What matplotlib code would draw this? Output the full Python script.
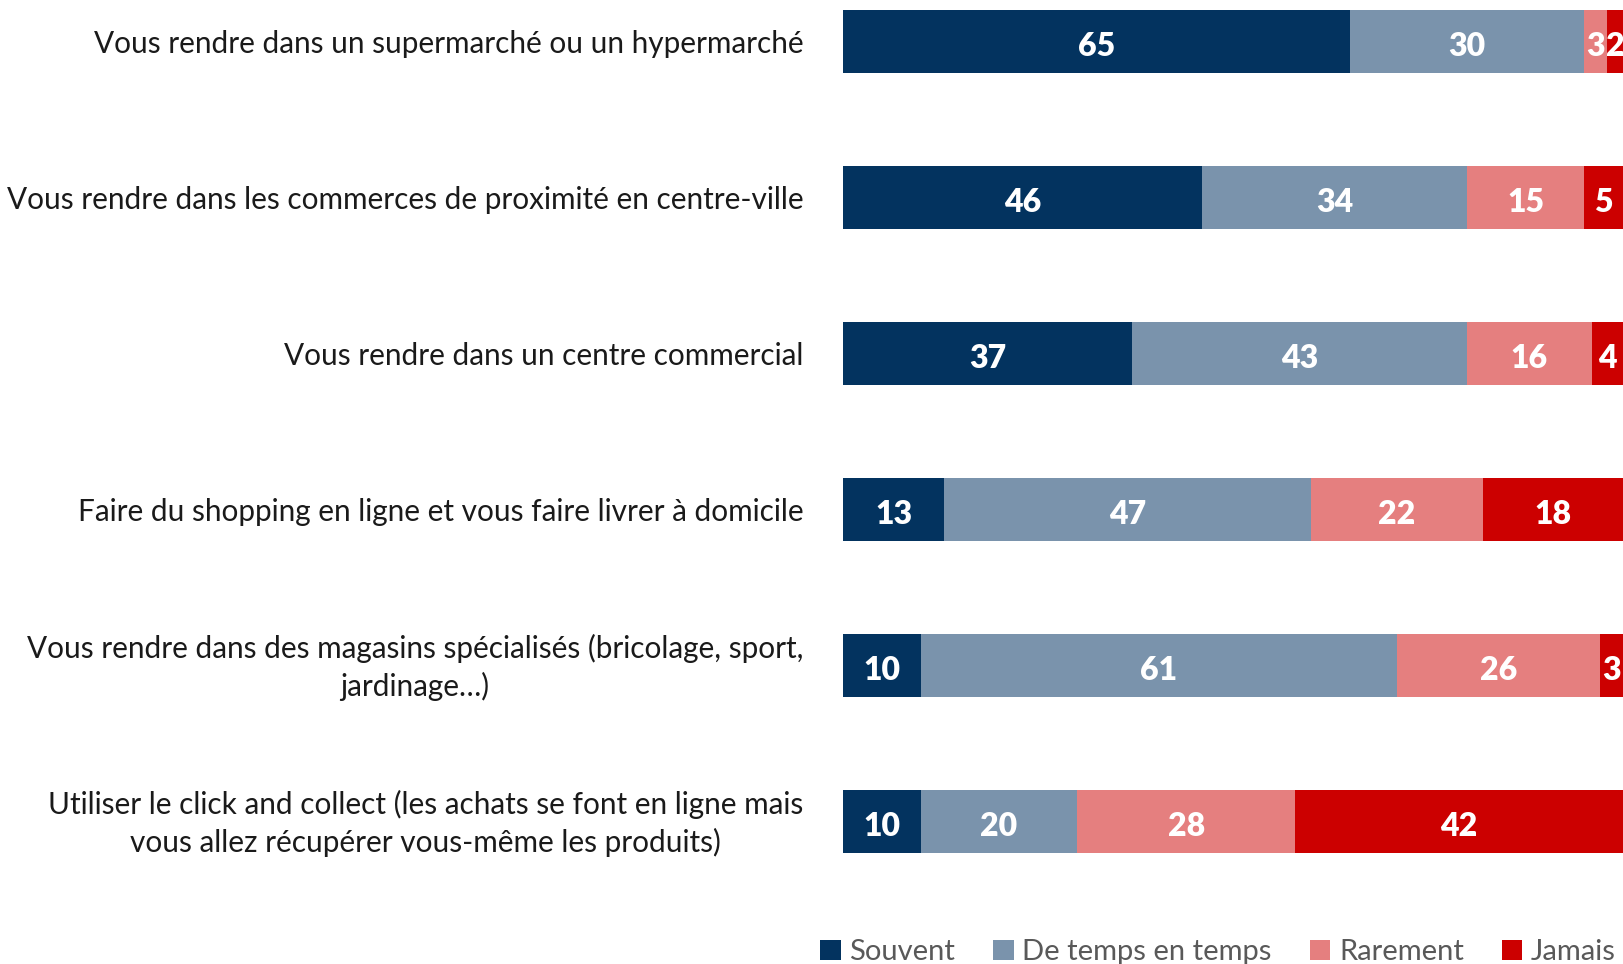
import matplotlib
matplotlib.use("Agg")
import matplotlib.pyplot as plt
import numpy as np

categories = [
    "Vous rendre dans un supermarché ou un hypermarché",
    "Vous rendre dans les commerces de proximité en centre-ville",
    "Vous rendre dans un centre commercial",
    "Faire du shopping en ligne et vous faire livrer à domicile",
    "Vous rendre dans des magasins spécialisés (bricolage, sport,\njardinage…)",
    "Utiliser le click and collect (les achats se font en ligne mais\nvous allez récupérer vous-même les produits)",
]
series_names = ["Souvent", "De temps en temps", "Rarement", "Jamais"]
souvent = [65, 46, 37, 13, 10, 10]
de_temps = [30, 34, 43, 47, 61, 20]
rarement = [3, 15, 16, 22, 26, 28]
jamais = [2, 5, 4, 18, 3, 42]
colors = ["#03335F", "#7A93AC", "#E57F7F", "#CC0000"]

plt.rcParams['font.family'] = ['Lato', 'DejaVu Sans']

W, H = 1623, 964
fig = plt.figure(figsize=(W / 100, H / 100), dpi=100)
top_px, bot_px = 0, 880
ax = fig.add_axes([843 / W, (H - bot_px) / H, 1 - 843 / W, (bot_px - top_px) / H])

y = np.arange(len(categories))
data = [souvent, de_temps, rarement, jamais]
left = np.zeros(len(categories))
handles = []
for name, vals, c in zip(series_names, data, colors):
    vals = np.array(vals, dtype=float)
    b = ax.barh(y, vals, left=left, height=0.4, color=c, label=name, edgecolor='none')
    handles.append(b)
    for yi, l, v in zip(y, left, vals):
        ax.text(l + v / 2, yi + 0.035, f"{int(v)}", ha='center', va='center',
                color='white', fontsize=23, fontweight='heavy', clip_on=False)
    left += vals

row_px = 156.0
first = 41.4
ax.set_ylim((bot_px - first) / row_px, (top_px - first) / row_px)
ax.set_xlim(0, 100)
ax.axis('off')

for yi, cat in zip(y, categories):
    ax.text(-5.1, yi + 0.015, cat, ha='right', va='center', fontsize=21.4, color='#1a1a1a',
            multialignment='center', linespacing=1.38)

leg = fig.legend(handles=handles, labels=series_names, loc='center',
                 bbox_to_anchor=(1218 / W, 1 - 952 / H), ncol=4, frameon=False,
                 fontsize=21, handlelength=0.7, handleheight=0.7, handletextpad=0.3,
                 columnspacing=1.3)
for t in leg.get_texts():
    t.set_color('#595959')

fig.savefig("out.png", dpi=100)
